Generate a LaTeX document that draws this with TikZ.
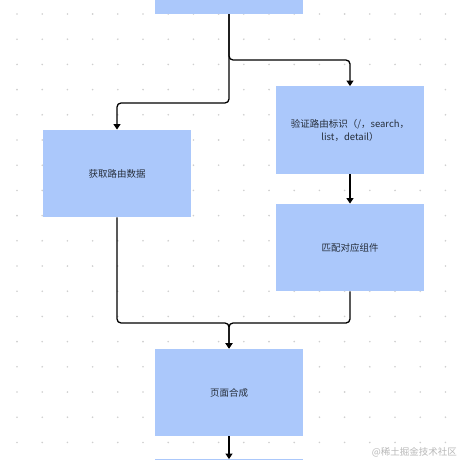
\documentclass[tikz,border=0pt]{standalone}
\usepackage{fontspec}
\setmainfont{Noto Sans CJK SC}
\newfontfamily\cjk{Noto Sans CJK SC}
\usetikzlibrary{arrows.meta}
\definecolor{boxblue}{HTML}{ABC8FB}
\definecolor{dotgray}{HTML}{CFCFCF}
\definecolor{txt}{HTML}{262E3A}
\begin{document}
\begin{tikzpicture}[x=1pt,y=-1pt,
  stepbox/.style={fill=boxblue,draw=none,minimum width=148pt,minimum height=87.5pt,inner sep=2pt,
    text=txt,font=\cjk\fontsize{9.5}{13}\selectfont,align=center},
  conn/.style={line width=1.3pt,black,rounded corners=4pt},
  arr/.style={conn,-{Triangle[length=5.5pt,width=7pt]}}]
\useasboundingbox (0,0) rectangle (460,460);
\fill[white] (0,0) rectangle (460,460);
% dot grid
\foreach \i in {0,...,17}{
  \foreach \j in {0,...,17}{
    \fill[dotgray] (17+25.2*\i,14+25.2*\j) circle (0.9pt);
  }
}
% boxes
\node[stepbox,minimum height=30pt] (top) at (229,-1) {};
\node[stepbox] (r1) at (350,130) {验证路由标识（/，search，\\list，detail）};
\node[stepbox] (l) at (117,173.5) {获取路由数据};
\node[stepbox] (r2) at (350,247.5) {匹配对应组件};
\node[stepbox] (b) at (229,392.5) {页面合成};
\node[stepbox] (n) at (229,503) {};
% connectors
\coordinate (j1) at (229,60);
\coordinate (j2) at (229,103);
\coordinate (m) at (229,323);
\draw[arr] (top.south) -- (j1) -- (350,60) -- (r1.north);
\draw[arr] (top.south) -- (j2) -- (117,103) -- (l.north);
\draw[arr] (r1.south) -- (r2.north);
\draw[arr] (l.south) -- (117,323) -- (m) -- (b.north);
\draw[arr] (r2.south) -- (350,323) -- (m) -- (b.north);
\draw[arr] (b.south) -- (n.north);
% watermark
\node[anchor=east,text=gray!55,font=\cjk\fontsize{9.5}{11}\selectfont,inner sep=0pt] (wm) at (457,452) {@稀土掘金技术社区};
\end{tikzpicture}
\end{document}
